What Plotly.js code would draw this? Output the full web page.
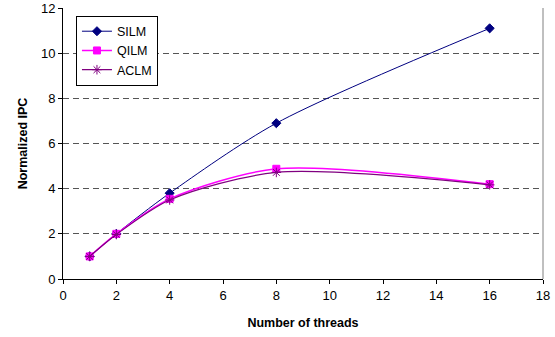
<!DOCTYPE html>
<html>
<head>
<meta charset="utf-8">
<script src="https://cdn.plot.ly/plotly-3.0.1.min.js"></script>
<style>
  html, body { margin: 0; padding: 0; background: #fff; }
  #chart { width: 555px; height: 337px; }
</style>
</head>
<body>
<div id="chart"></div>
<script>
// Thread counts and normalized IPC per scheme
const threads = [1, 2, 4, 8, 16];
const silm = [1, 2, 3.8, 6.9, 11.1];
const qilm = [1, 2, 3.55, 4.88, 4.2];
const aclm = [1, 1.97, 3.5, 4.72, 4.17];
const xTicks = [0, 2, 4, 6, 8, 10, 12, 14, 16, 18];
const yTicks = [0, 2, 4, 6, 8, 10, 12];

const font = 'Liberation Sans, Arial, sans-serif';

function series(name, y, color, symbol, size, width) {
  return {
    type: 'scatter', mode: 'lines+markers', name: name,
    x: threads, y: y,
    line: { color: color, width: width, shape: 'spline', smoothing: 0.8 },
    marker: { color: color, symbol: symbol, size: size,
              line: { color: color, width: 1 } }
  };
}

const data = [
  series('SILM', silm, '#000080', 'diamond', 7, 1),
  series('QILM', qilm, '#FF00FF', 'square', 7, 1.5),
  series('ACLM', aclm, '#800080', 'asterisk-open', 8, 1.2)
];

const layout = {
  width: 555, height: 337,
  margin: { l: 63, r: 12, t: 8, b: 58 },
  paper_bgcolor: '#fff', plot_bgcolor: '#fff',
  font: { family: font, size: 13, color: '#000' },
  showlegend: true,
  legend: {
    x: 0.027, y: 0.972, xanchor: 'left', yanchor: 'top',
    bordercolor: '#000', borderwidth: 1, bgcolor: '#fff',
    font: { family: font, size: 12.5, color: '#000' },
    tracegroupgap: 0, itemwidth: 30
  },
  xaxis: {
    range: [0, 18], tickvals: xTicks, ticktext: xTicks.map(String),
    showgrid: false, zeroline: false,
    showline: true, linecolor: '#000', linewidth: 1,
    ticks: 'outside', ticklen: 4, tickcolor: '#000',
    tickfont: { family: font, size: 13 },
    title: { text: '<b>Number of threads</b>', font: { family: font, size: 12.5 }, standoff: 16 }
  },
  yaxis: {
    range: [0, 12], tickvals: yTicks, ticktext: yTicks.map(String),
    showgrid: true, gridcolor: '#555', griddash: '6px,4px', gridwidth: 1,
    zeroline: false,
    showline: true, linecolor: '#000', linewidth: 1,
    ticks: 'outside', ticklen: 4, tickcolor: '#000',
    tickfont: { family: font, size: 13 },
    title: { text: '<b>Normalized IPC</b>', font: { family: font, size: 12.5 }, standoff: 10 }
  },
  shapes: [
    // plot area frame on the right edge
    { type: 'line', xref: 'paper', yref: 'paper', x0: 1, x1: 1, y0: 0, y1: 1,
      line: { color: '#808080', width: 1 } }
  ]
};

Plotly.newPlot('chart', data, layout, { staticPlot: true, displayModeBar: false });
</script>
</body>
</html>
